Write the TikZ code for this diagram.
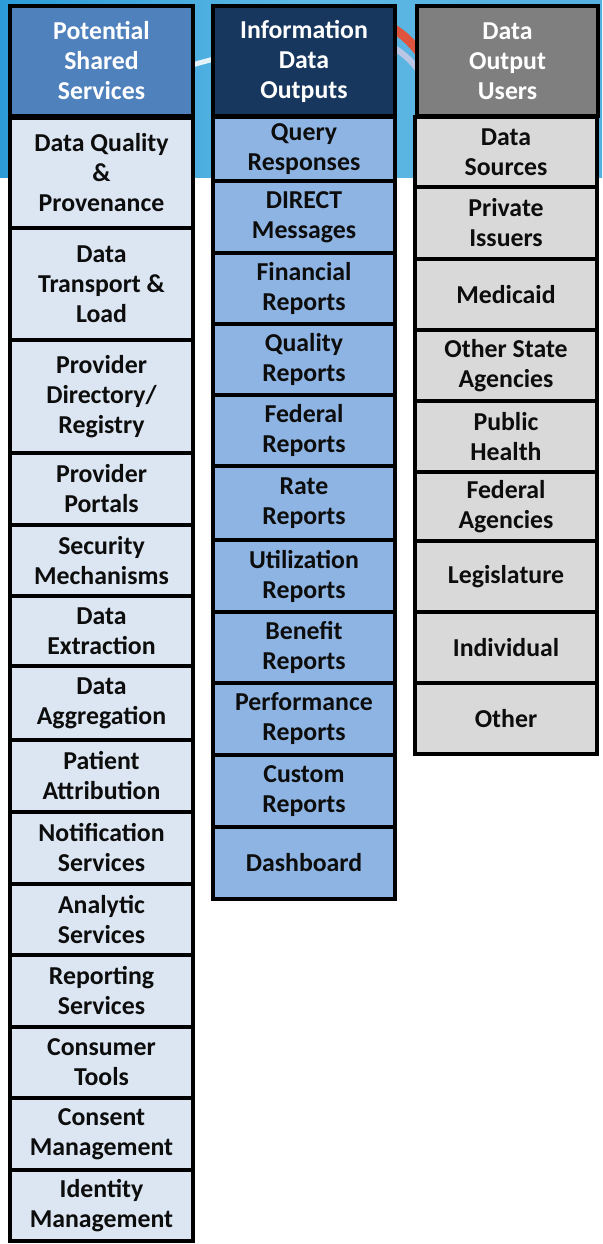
\documentclass[tikz,border=0pt]{standalone}
\usepackage{fontspec}
\setmainfont{Carlito}
\usetikzlibrary{positioning}

\definecolor{skyblue}{HTML}{2B9BD7}
\definecolor{skylight}{HTML}{5DB8E4}
\definecolor{svchead}{HTML}{4F81BD}
\definecolor{outhead}{HTML}{17375E}
\definecolor{userhead}{HTML}{7F7F7F}
\definecolor{svcfill}{HTML}{DCE6F2}
\definecolor{outfill}{HTML}{8EB4E3}
\definecolor{userfill}{HTML}{D9D9D9}
\definecolor{swooshred}{HTML}{E0533C}

\tikzset{
  cell/.style={draw=black, line width=4pt, align=center, inner sep=0pt,
    text=black!95, font=\bfseries\fontsize{25.8}{30}\selectfont},
  head/.style={cell, text=white, minimum height=110pt},
}

\begin{document}
\begin{tikzpicture}[x=1pt,y=-1pt]
  \useasboundingbox (0,0) rectangle (602,1244);
  % slide background band
  \shade[left color=skyblue, right color=skyblue!80!white, middle color=skylight] (0,0) rectangle (602,177);
  \draw[white, line width=5pt, opacity=0.85] (150,80) .. controls (190,64) and (230,52) .. (300,45);
  \draw[swooshred, line width=9pt] (380,22) .. controls (400,30) and (412,42) .. (425,60);
  \draw[white!80!violet, line width=6pt, opacity=0.7] (378,40) .. controls (398,48) and (410,58) .. (422,75);

  % column headers
  \node[head, fill=svchead, minimum width=183pt] (svchd) at (101.5,61) {Potential\\Shared\\Services};
  \node[head, fill=outhead, minimum width=182pt] (outhd) at (304,61) {Information\\Data\\Outputs};
  \node[head, fill=userhead, minimum width=181pt] (userhd) at (507.5,61) {Data\\Output\\Users};

  % shared services
  \foreach \ya/\yb/\txt [count=\i] in {
      118/228/{Data Quality\\\&\\Provenance},
      228/340/{Data\\Transport \&\\Load},
      340/453/{Provider\\Directory/\\Registry},
      453/525/{Provider\\Portals},
      525/596/{Security\\Mechanisms},
      596/666/{Data\\Extraction},
      666/740/{Data\\Aggregation},
      740/812/{Patient\\Attribution},
      812/884/{Notification\\Services},
      884/955/{Analytic\\Services},
      955/1027/{Reporting\\Services},
      1027/1098/{Consumer\\Tools},
      1098/1170/{Consent\\Management},
      1170/1241/{Identity\\Management}}
    \node[cell, fill=svcfill, minimum width=183pt, minimum height={(\yb-\ya)*1pt}]
      (svc\i) at (101.5,{(\ya+\yb)/2}) {\txt};

  % data outputs
  \foreach \ya/\yb/\txt [count=\i] in {
      117/181/{Query\\Responses},
      181/253/{DIRECT\\Messages},
      253/324/{Financial\\Reports},
      324/395/{Quality\\Reports},
      395/466/{Federal\\Reports},
      466/540/{Rate\\Reports},
      540/612/{Utilization\\Reports},
      612/683/{Benefit\\Reports},
      683/755/{Performance\\Reports},
      755/827/{Custom\\Reports},
      827/899/{Dashboard}}
    \node[cell, fill=outfill, minimum width=182pt, minimum height={(\yb-\ya)*1pt}]
      (out\i) at (304,{(\ya+\yb)/2}) {\txt};

  % output users
  \foreach \ya/\yb/\txt [count=\i] in {
      117/187/{Data\\Sources},
      187/259/{Private\\Issuers},
      259/330/{Medicaid},
      330/401/{Other State\\Agencies},
      401/472/{Public\\Health},
      472/541/{Federal\\Agencies},
      541/612/{Legislature},
      612/683/{Individual},
      683/754/{Other}}
    \node[cell, fill=userfill, minimum width=182pt, minimum height={(\yb-\ya)*1pt}]
      (user\i) at (506,{(\ya+\yb)/2}) {\txt};
\end{tikzpicture}
\end{document}
